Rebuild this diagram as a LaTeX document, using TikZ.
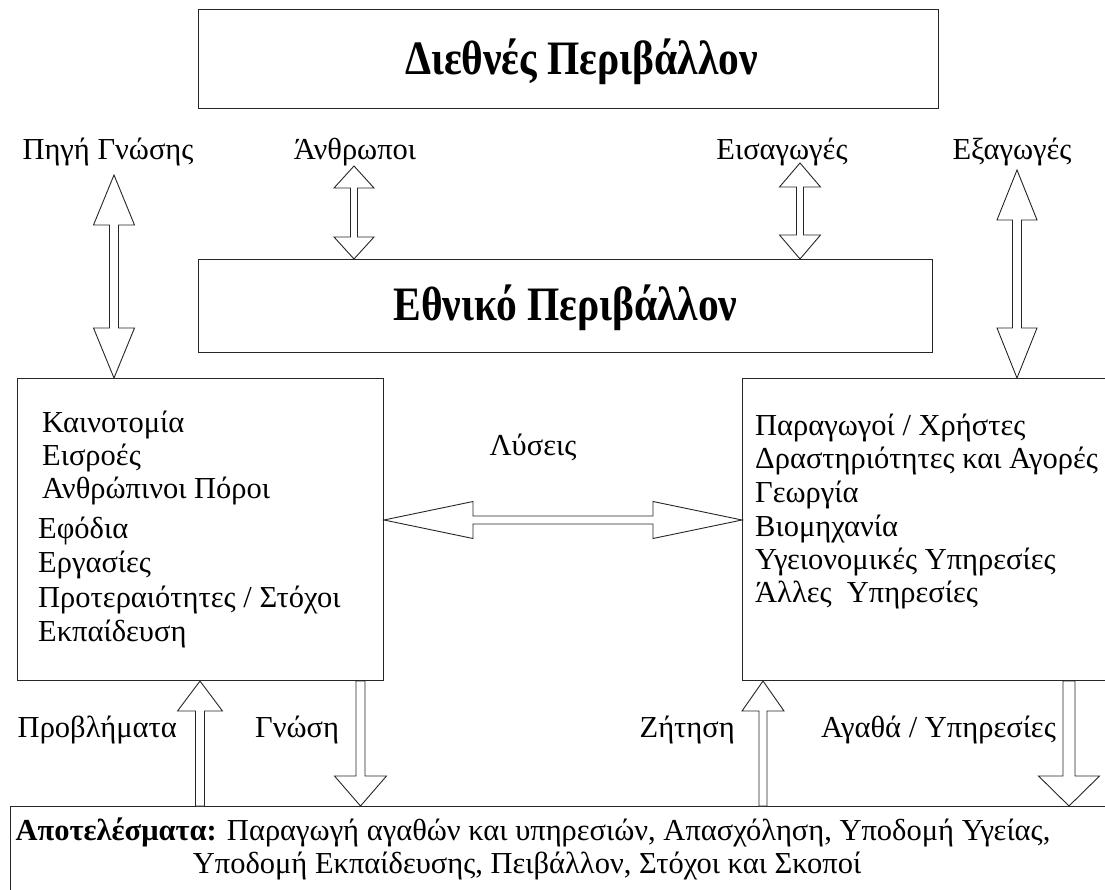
\documentclass[tikz,border=0pt]{standalone}
\usepackage{fontspec}
\setmainfont{Liberation Serif}
\usetikzlibrary{calc}
\tikzset{
  box/.style={draw=black!85, line width=1pt},
  lbl/.style={font=\fontsize{30.5}{34}\selectfont, inner sep=0pt},
  ttl/.style={font=\fontsize{48}{54}\selectfont\bfseries, inner sep=0pt},
  blk/.style={draw=black!85, line width=0.9pt, fill=white, line join=miter},
}
\newcommand{\blkarrow}[5]{%
  \coordinate (hh) at ($(#2)!#4!(#1)$);
  \draw[blk] ($(#1)!#5!90:(#2)$) -- ($(hh)!#5!90:(#2)$) -- ($(hh)!#3!90:(#2)$) -- (#2)
    -- ($(hh)!#3!-90:(#2)$) -- ($(hh)!#5!-90:(#2)$) -- ($(#1)!#5!-90:(#2)$) -- cycle;
}
\newcommand{\dblkarrow}[5]{%
  \coordinate (ha) at ($(#1)!#4!(#2)$);
  \coordinate (hb) at ($(#2)!#4!(#1)$);
  \draw[blk] (#1) -- ($(ha)!#3!90:(#2)$) -- ($(ha)!#5!90:(#2)$) -- ($(hb)!#5!90:(#2)$)
    -- ($(hb)!#3!90:(#2)$) -- (#2) -- ($(hb)!#3!-90:(#2)$) -- ($(hb)!#5!-90:(#2)$)
    -- ($(ha)!#5!-90:(#2)$) -- ($(ha)!#3!-90:(#2)$) -- cycle;
}
\begin{document}
\begin{tikzpicture}[x=1pt,y=-1pt]
\useasboundingbox[fill=white] (0,0) rectangle (1105,890);

% boxes
\node[box, anchor=north west, minimum width=740pt, minimum height=99pt, inner sep=0pt] (intl) at (198,9) {};
\node[ttl] at ($(intl.center)+(13,3)$) {\scalebox{0.865}[1]{Διεθνές Περιβάλλον}};
\node[box, anchor=north west, minimum width=734pt, minimum height=93pt, inner sep=0pt] (natl) at (198,259) {};
\node[ttl] at ($(natl.center)+(0,2)$) {\scalebox{0.865}[1]{Εθνικό Περιβάλλον}};
\node[box, anchor=north west, minimum width=366pt, minimum height=302pt, inner sep=0pt] (left) at (17,378) {};
\node[box, anchor=north west, minimum width=380pt, minimum height=302pt, inner sep=0pt] (right) at (742,378) {};
\node[box, anchor=north west, minimum width=1110pt, minimum height=100pt, inner sep=0pt] (res) at (10,806) {};

% top labels
\node[lbl, anchor=base] (pigi) at (108,160) {Πηγή Γνώσης};
\node[lbl, anchor=base] (anth) at (355,160) {Άνθρωποι};
\node[lbl, anchor=base] (eisa) at (782,160) {Εισαγωγές};
\node[lbl, anchor=base] (exa) at (1012,160) {Εξαγωγές};

% left box text
\node[lbl, anchor=base west] (l1) at (42,432) {Καινοτομία};
\node[lbl, anchor=base west] (l2) at (42,465) {Εισροές};
\node[lbl, anchor=base west] (l3) at (42,498) {Ανθρώπινοι Πόροι};
\node[lbl, anchor=base west] (l4) at (38,538) {Εφόδια};
\node[lbl, anchor=base west] (l5) at (38,572) {Εργασίες};
\node[lbl, anchor=base west] (l6) at (38,607) {Προτεραιότητες / Στόχοι};
\node[lbl, anchor=base west] (l7) at (38,641) {Εκπαίδευση};

% right box text
\node[lbl, anchor=base west] (r1) at (755,435) {Παραγωγοί / Χρήστες};
\node[lbl, anchor=base west] (r2) at (755,468) {Δραστηριότητες και Αγορές};
\node[lbl, anchor=base west] (r3) at (755,502) {Γεωργία};
\node[lbl, anchor=base west] (r4) at (755,536) {Βιομηχανία};
\node[lbl, anchor=base west] (r5) at (755,569) {Υγειονομικές Υπηρεσίες};
\node[lbl, anchor=base west] (r6) at (755,602) {Άλλες\ \ Υπηρεσίες};

% middle label
\node[lbl, anchor=base] (lys) at (533,455) {Λύσεις};

% bottom labels
\node[lbl, anchor=base east] (prob) at (177,737) {Προβλήματα};
\node[lbl, anchor=base west] (gno) at (255,737) {Γνώση};
\node[lbl, anchor=base east] (zit) at (735,737) {Ζήτηση};
\node[lbl, anchor=base west] (agath) at (821,737) {Αγαθά / Υπηρεσίες};

% results text
\node[lbl, anchor=base] (res1) at (533,840) {\textbf{Αποτελέσματα:} Παραγωγή αγαθών και υπηρεσιών, Απασχόληση, Υποδομή Υγείας,};
\node[lbl, anchor=base] (res2) at (527,873) {Υποδομή Εκπαίδευσης, Πειβάλλον, Στόχοι και Σκοποί};

% arrow end points
\coordinate (p1) at (114,175);  \coordinate (p2) at (left.north -| p1);
\coordinate (a1) at (354,166);  \coordinate (a2) at (natl.north -| a1);
\coordinate (e1) at (800,163);  \coordinate (e2) at (natl.north -| e1);
\coordinate (x1) at (1017,170); \coordinate (x2) at (right.north -| x1);
\coordinate (s1) at (left.east |- 0,520); \coordinate (s2) at (right.west |- 0,520);
\coordinate (b1) at (res.north -| 200,0);   \coordinate (b2) at (left.south -| b1);
\coordinate (g1) at (left.south -| 360.5,0); \coordinate (g2) at (res.north -| g1);
\coordinate (z1) at (res.north -| 763,0);   \coordinate (z2) at (right.south -| z1);
\coordinate (y1) at (right.south -| 1069,0); \coordinate (y2) at (res.north -| y1);

\dblkarrow{p1}{p2}{20.5pt}{50pt}{4.5pt}
\dblkarrow{a1}{a2}{20pt}{22pt}{3.5pt}
\dblkarrow{e1}{e2}{20.5pt}{24pt}{3.5pt}
\dblkarrow{x1}{x2}{20pt}{50pt}{4.5pt}
\dblkarrow{s1}{s2}{18.5pt}{89pt}{4pt}
\blkarrow{b1}{b2}{22.5pt}{30pt}{4.5pt}
\blkarrow{g1}{g2}{26pt}{30pt}{4.5pt}
\blkarrow{z1}{z2}{21pt}{30pt}{4pt}
\blkarrow{y1}{y2}{30.5pt}{30pt}{6pt}
\end{tikzpicture}
\end{document}
